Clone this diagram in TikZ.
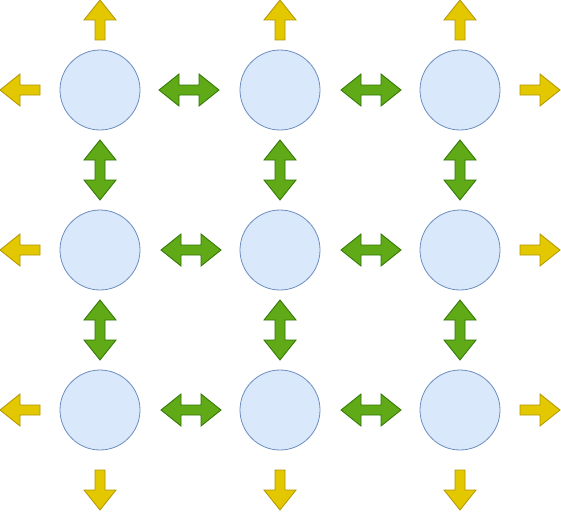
\documentclass[tikz,border=0pt]{standalone}
\definecolor{yfill}{HTML}{E3C800}
\definecolor{ydraw}{HTML}{B09500}
\definecolor{gfill}{HTML}{60A917}
\definecolor{gdraw}{HTML}{2D7600}
\definecolor{cfill}{HTML}{DAE8FC}
\definecolor{cdraw}{HTML}{6C8EBF}
\tikzset{
  cell/.style={circle, minimum size=80pt, inner sep=0pt, fill=cfill, draw=cdraw, line width=0.8pt},
  yarr/.pic={\draw[fill=yfill, draw=ydraw, line width=0.8pt, line join=miter]
     (0,-5) -- (20,-5) -- (20,-16) -- (40,0) -- (20,16) -- (20,5) -- (0,5) -- cycle;},
  garr/.pic={\draw[fill=gfill, draw=gdraw, line width=0.8pt, line join=miter]
     (-30,0) -- (-10,-16) -- (-10,-5) -- (10,-5) -- (10,-16) -- (30,0) -- (10,16) -- (10,5) -- (-10,5) -- (-10,16) -- cycle;}
}
\begin{document}
\begin{tikzpicture}[x=1pt,y=-1pt]
\useasboundingbox (0,0) rectangle (561,511);
% circles
\foreach \r/\y in {1/90,2/250,3/410}{
  \foreach \c/\x in {1/100,2/280,3/460}{
    \node[cell] (n\r\c) at (\x,\y) {};
  }
}
% yellow outward arrows
\foreach \x in {100,280,460}{
  \pic[rotate=90] at (\x,40) {yarr};
  \pic[rotate=-90] at (\x,470) {yarr};
}
\foreach \y in {90,250,410}{
  \pic[rotate=180] at (40,\y) {yarr};
  \pic at (520,\y) {yarr};
}
% green horizontal double arrows
\pic at (189,90) {garr};
\pic at (371,90) {garr};
\pic at (191,250) {garr};
\pic at (371,250) {garr};
\pic at (191,410) {garr};
\pic at (371,410) {garr};
% green vertical double arrows
\foreach \x in {100,280,460}{
  \pic[rotate=90] at (\x,170) {garr};
  \pic[rotate=90] at (\x,330) {garr};
}
\end{tikzpicture}
\end{document}
